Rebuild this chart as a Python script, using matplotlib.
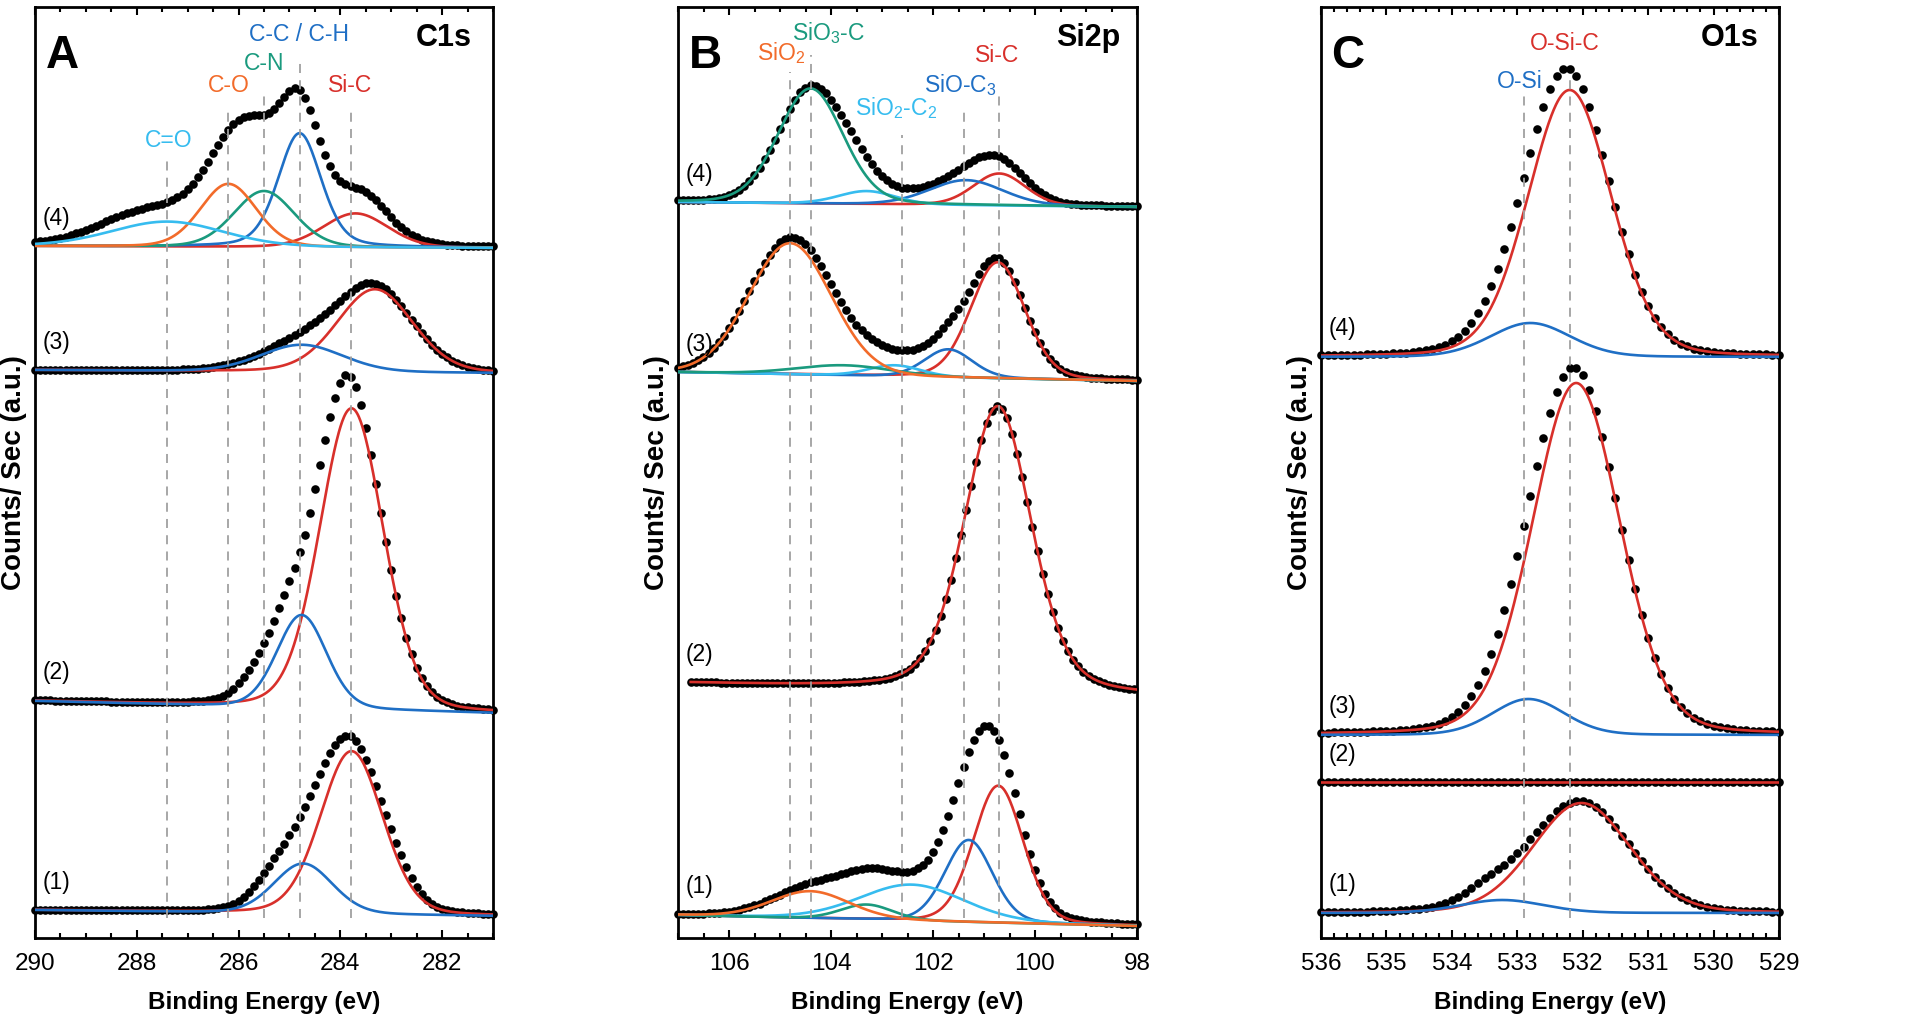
import numpy as np
import matplotlib.pyplot as plt
from matplotlib.ticker import MultipleLocator

plt.rcParams['font.family'] = ['Liberation Sans', 'DejaVu Sans']

RED = '#d8302b'
BLUE = '#1f6fc5'
GREEN = '#1a9a7e'
ORANGE = '#f26b2a'
LIGHTBLUE = '#36bcef'
DASH = '#a0a0a0'

# peaks: (label, centre eV, height a.u., FWHM eV[, lorentz share]) in drawing order
# baselines: (left end, right end) of the stacked offset, spectra (1)..(4)
# extra: parts of the measured points that the fitted peaks leave out

# ---- C1s ----
c1s_range = (290, 281)
c1s_base = [(28, 22), (237, 225), (568, 565), (692, 690)]
c1s_peaks = [
    [('Si-C', 283.78, 163, 1.44), ('C-C', 284.73, 50, 1.35)],
    [('Si-C', 283.78, 301, 1.47), ('C-C', 284.76, 93, 1.15)],
    [('Si-C', 283.32, 83, 1.75), ('C-C', 284.76, 27, 1.9)],
    [('Si-C', 283.7, 34, 1.5), ('C-C', 284.8, 114, 1.0, 0.3), ('C-N', 285.5, 56, 1.4),
     ('C-O', 286.2, 63, 1.3), ('C=O', 287.4, 25, 2.6)],
]
c1s_extra = [
    [(285.4, 14, 0.9), (282.9, 12, 0.8)],
    [(285.6, 22, 0.9), (284.7, -25, 0.6), (283.9, 18, 0.6)],
    [],
    [(283.5, 16, 1.0), (285.8, 12, 0.8), (288.0, 12, 2.0)],
]

# ---- Si2p ----
si2p_range = (107, 98)
si2p_start = [107, 106.75, 107, 107]
si2p_base = [(23, 12), (255, 242), (566, 557), (736, 731)]
si2p_peaks = [
    [('Si-C', 100.72, 137, 1.15), ('SiO-C3', 101.3, 82, 1.1), ('SiO2-C2', 102.42, 36, 2.4),
     ('SiO3-C', 103.3, 15, 1.2), ('SiO2', 104.4, 27, 1.8)],
    [('Si-C', 100.73, 286, 1.55, 0.3)],
    [('Si-C', 100.73, 116, 1.25), ('SiO-C3', 101.7, 28, 1.1), ('SiO2-C2', 102.75, 11, 1.2),
     ('SiO3-C', 103.75, 10, 2.2), ('SiO2', 104.8, 131, 1.9, 0.05)],
    [('Si-C', 100.7, 32, 1.2), ('SiO-C3', 101.35, 25, 1.7), ('SiO2-C2', 103.3, 13, 1.3),
     ('SiO3-C', 104.4, 115, 1.5)],
]
si2p_extra = [[], [], [], [(103.6, 8, 0.8)]]

# ---- O1s ----
o1s_range = (536, 529)
o1s_base = [(25, 25), (156, 156), (203, 203), (581, 581)]
o1s_peaks = [
    [('O-Si-C', 532.02, 110, 1.75), ('O-Si', 533.23, 13, 1.5)],
    [('O-Si-C', 532.1, 0, 1.5)],
    [('O-Si-C', 532.1, 352, 1.58), ('O-Si', 532.83, 36, 1.3)],
    [('O-Si-C', 532.2, 267, 1.5), ('O-Si', 532.8, 34, 1.45)],
]
o1s_extra = [[(533.5, 6, 0.6)], [], [], []]

# reference lines: (eV, top of dashed line) and peak names (text, eV, baseline height, key)
c1s_marks = [(287.4, 781), (286.2, 831), (285.5, 846), (284.8, 881), (283.8, 831)]
si2p_marks = [(104.8, 866), (104.4, 883), (102.6, 803), (101.4, 830), (100.7, 848)]
o1s_marks = [(532.9, 843), (532.2, 863)]

c1s_names = [('C=O', 287.37, 791, 'C=O'), ('C-O', 286.19, 846, 'C-O'),
             ('C-N', 285.49, 868, 'C-N'), ('C-C / C-H', 284.81, 897, 'C-C'),
             ('Si-C', 283.81, 846, 'Si-C')]
si2p_names = [('SiO$_\\mathregular{2}$', 104.98, 878, 'SiO2'),
              ('SiO$_\\mathregular{3}$-C', 104.04, 898, 'SiO3-C'),
              ('SiO$_\\mathregular{2}$-C$_\\mathregular{2}$', 102.73, 823, 'SiO2-C2'),
              ('SiO-C$_\\mathregular{3}$', 101.47, 846, 'SiO-C3'),
              ('Si-C', 100.75, 876, 'Si-C')]
o1s_names = [('O-Si-C', 532.27, 888, 'O-Si-C'), ('O-Si', 532.96, 850, 'O-Si')]

colors = {'Si-C': RED, 'C-C': BLUE, 'C-N': GREEN, 'C-O': ORANGE, 'C=O': LIGHTBLUE,
          'SiO-C3': BLUE, 'SiO2-C2': LIGHTBLUE, 'SiO3-C': GREEN, 'SiO2': ORANGE,
          'O-Si-C': RED, 'O-Si': BLUE}


def voigt(e, c, h, w, eta=0.15):
    x = (e - c) / w
    return h * ((1 - eta) * np.exp(-4 * np.log(2) * x ** 2) + eta / (1 + 4 * x ** 2))


def baseline(e, rng, base):
    return base[0] + (rng[0] - e) / (rng[0] - rng[1]) * (base[1] - base[0])


def draw_panel(ax, rng, bases, peaks, extra, starts, marks, names, letter, title, major, minor):
    for i in range(4):
        e_dots = np.arange(starts[i], rng[1] - 0.01, -0.1)
        e_fit = np.linspace(starts[i], rng[1], 800)
        dots = baseline(e_dots, rng, bases[i])
        for p in peaks[i]:
            dots = dots + voigt(e_dots, *p[1:])
        for p in extra[i]:
            dots = dots + voigt(e_dots, *p)
        ax.plot(e_dots, dots, 'o', color='black', markersize=6.2, markeredgewidth=0,
                zorder=2, clip_on=False)
        for p in peaks[i]:
            ax.plot(e_fit, baseline(e_fit, rng, bases[i]) + voigt(e_fit, *p[1:]),
                    color=colors[p[0]], lw=1.9, zorder=3)
        ax.text(0.017, bases[i][0] + 28, '(%d)' % (i + 1), transform=ax.get_yaxis_transform(),
                fontsize=16.5, ha='left', va='center')
    for e, top in marks:
        ax.plot([e, e], [20, top], color=DASH, lw=1.3, dashes=(5, 4), zorder=4)
    for text, e, y, key in names:
        ax.text(e, y, text, color=colors[key], fontsize=16.5, ha='center', va='baseline')
    ax.set_xlim(rng)
    ax.set_ylim(0, 931)
    ax.set_yticks([])
    ax.xaxis.set_major_locator(MultipleLocator(major))
    ax.xaxis.set_minor_locator(MultipleLocator(minor))
    ax.tick_params(axis='x', which='both', direction='in', top=True, width=1.5,
                   labelsize=17.5, pad=11)
    ax.tick_params(axis='x', which='major', length=6)
    ax.tick_params(axis='x', which='minor', length=3.5)
    for s in ax.spines.values():
        s.set_linewidth(2)
    ax.set_xlabel('Binding Energy (eV)', fontsize=17.5, fontweight='bold', labelpad=11)
    ax.set_ylabel('Counts/ Sec (a.u.)', fontsize=20, fontweight='bold')
    ax.yaxis.set_label_coords(-0.018, 0.5)
    ax.text(0.059, 0.947, letter, transform=ax.transAxes, fontsize=33, fontweight='bold',
            ha='center', va='center')
    ax.text(0.893, 0.967, title, transform=ax.transAxes, fontsize=22, fontweight='bold',
            ha='center', va='center')


fig = plt.figure(figsize=(19.2, 10.25), dpi=100)
axA = fig.add_axes([35 / 1920, 87 / 1025, 458 / 1920, 931 / 1025])
axB = fig.add_axes([678 / 1920, 87 / 1025, 459 / 1920, 931 / 1025])
axC = fig.add_axes([1321 / 1920, 87 / 1025, 458 / 1920, 931 / 1025])

draw_panel(axA, c1s_range, c1s_base, c1s_peaks, c1s_extra, [290] * 4, c1s_marks, c1s_names,
           'A', 'C1s', 2, 0.5)
draw_panel(axB, si2p_range, si2p_base, si2p_peaks, si2p_extra, si2p_start, si2p_marks,
           si2p_names, 'B', 'Si2p', 2, 0.5)
draw_panel(axC, o1s_range, o1s_base, o1s_peaks, o1s_extra, [536] * 4, o1s_marks, o1s_names,
           'C', 'O1s', 1, 0.2)

fig.savefig('out.png', dpi=100)
